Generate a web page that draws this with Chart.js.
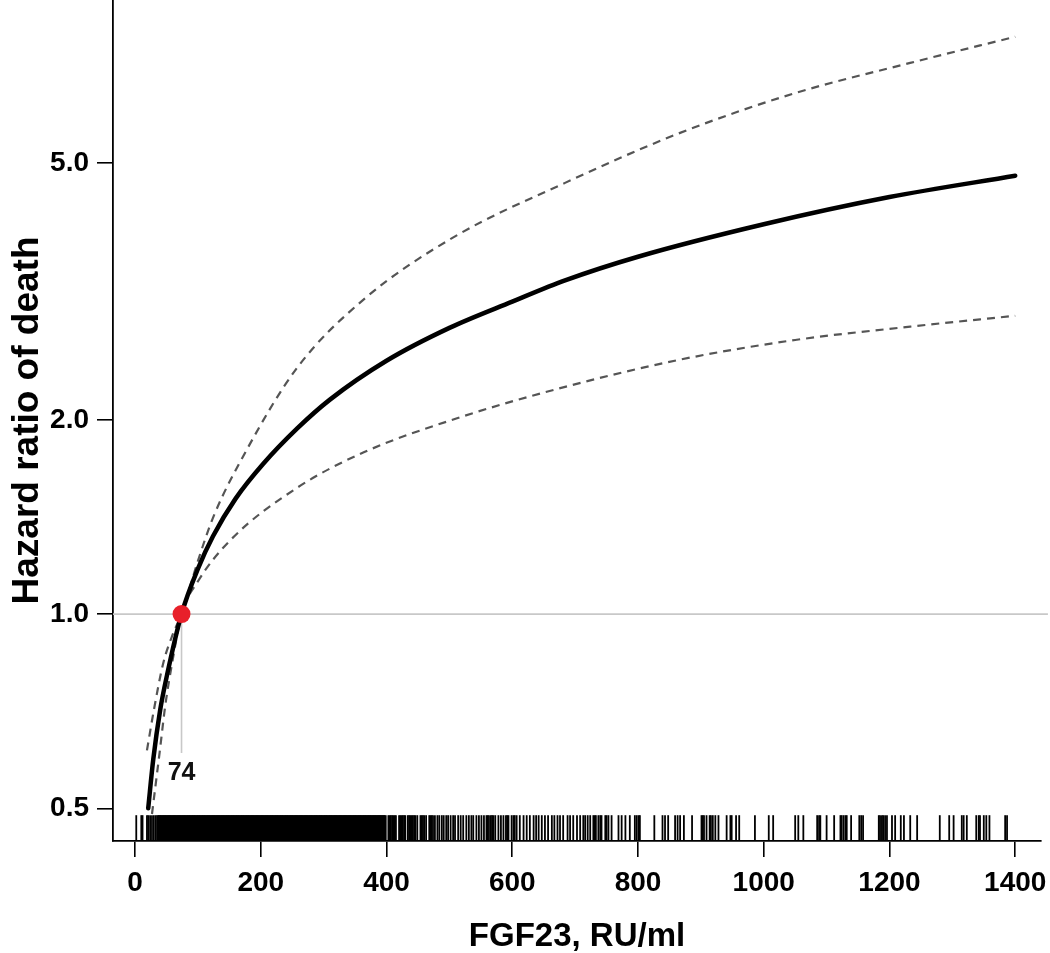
<!DOCTYPE html>
<html>
<head>
<meta charset="utf-8">
<script src="https://cdn.jsdelivr.net/npm/chart.js@4"></script>
<style>
  html, body { margin: 0; padding: 0; background: #ffffff; }
  #wrap { width: 1050px; height: 953px; position: relative; }
</style>
</head>
<body>
<div id="wrap"><canvas id="c" width="1050" height="953"></canvas></div>
<script>
// ---- data ----
const mainX  = [21, 29, 40, 51, 74, 100, 124, 160, 204, 258, 310, 400, 501, 600, 684, 800, 1000, 1200, 1400];
const mainHR = [0.50, 0.595, 0.71, 0.805, 1.00, 1.175, 1.32, 1.51, 1.71, 1.94, 2.15, 2.47, 2.78, 3.05, 3.29, 3.58, 4.02, 4.43, 4.78];

const upperX  = [19, 30, 45, 60, 74, 99, 124, 178, 258, 363, 507, 684, 867, 1050, 1233, 1400];
const upperHR = [0.615, 0.71, 0.84, 0.93, 1.00, 1.20, 1.41, 1.80, 2.41, 3.07, 3.84, 4.66, 5.57, 6.42, 7.15, 7.85];

const lowerX  = [27, 40, 48, 60, 74, 99, 151, 258, 363, 511, 684, 867, 1050, 1233, 1400];
const lowerHR = [0.49, 0.62, 0.72, 0.85, 1.00, 1.12, 1.30, 1.57, 1.78, 2.01, 2.25, 2.48, 2.66, 2.79, 2.90];

const refX = 74;      // FGF23 value where HR = 1
const refHR = 1.0;
const refLabel = "74";

// individual FGF23 observations (rug): the densely packed core ...
const rugDense = [
  36, 38, 40, 42, 44, 46, 48, 50, 52, 54, 56, 58, 60, 62, 64, 66, 68, 70, 72, 74, 76, 78, 80,
  82, 84, 86, 88, 90, 92, 94, 96, 98, 100, 102, 104, 106, 108, 110, 112, 114, 116, 118, 120,
  122, 124, 126, 128, 130, 132, 134, 136, 138, 140, 142, 144, 146, 148, 150, 152, 154, 156, 158, 160,
  162, 164, 166, 168, 170, 172, 174, 176, 178, 180, 182, 184, 186, 188, 190, 192, 194, 196, 198, 200,
  202, 204, 206, 208, 210, 212, 214, 216, 218, 220, 222, 224, 226, 228, 230, 232, 234, 236, 238, 240,
  242, 244, 246, 248, 250, 252, 254, 256, 258, 260, 262, 264, 266, 268, 270, 272, 274, 276, 278, 280,
  282, 284, 286, 288, 290, 292, 294, 296, 298, 300, 302, 304, 306, 308, 310, 312, 314, 316, 318, 320,
  322, 324, 326, 328, 330, 332, 334, 336, 338, 340, 342, 344, 346, 348, 350, 352, 354, 356, 358, 360,
  362, 364, 366, 368, 370, 372, 374, 376, 378, 380, 382, 384, 386, 388, 390, 392, 394, 396, 398
];
// ... and the scattered observations around it
const rugSparse = [
  2, 10, 12, 19, 21, 24, 27, 30, 33,
  403, 405, 407, 409, 411, 413, 415,
  420, 422, 424, 426, 428, 430, 434, 436, 438, 440, 442, 444, 446, 449, 454, 456, 458, 460, 463,
  468, 470, 472, 474, 477, 481, 484, 488, 491, 495, 498,
  502, 506, 509, 514, 518, 522, 527, 531, 535, 538, 543, 547,
  551, 555, 559, 561, 563, 566, 568, 570, 573, 578, 582, 586, 590, 592, 594, 599, 602, 604, 607, 612, 618, 623, 628,
  634, 638, 642, 647, 652, 657, 663, 667, 672, 676, 681, 688, 692, 697, 703,
  708, 713, 716, 720, 724, 729, 731, 733, 737, 740, 742, 748, 750, 753, 758, 769, 774, 780, 787,
  795, 798, 801, 803, 826, 839, 843, 848, 859, 863, 867, 873, 886, 901, 903, 905, 909, 914, 916, 919,
  923, 928, 941, 947, 949, 956, 961, 986, 1008, 1015, 1050, 1055, 1063, 1085, 1088, 1090, 1100, 1112,
  1122, 1124, 1127, 1130, 1132, 1139, 1152, 1155, 1158, 1183, 1185, 1188, 1190, 1193, 1196, 1204, 1209,
  1218, 1223, 1233, 1244, 1280, 1295, 1302, 1315, 1318, 1323, 1338, 1342, 1344, 1350, 1354, 1359, 1384, 1387
];

const xTickValues = [0, 200, 400, 600, 800, 1000, 1200, 1400];
const yTickValues = [0.5, 1.0, 2.0, 5.0];
const yTickLabels = ["0.5", "1.0", "2.0", "5.0"];

const xTitle = "FGF23, RU/ml";
const yTitle = "Hazard ratio of death";

// ---- styling / layout constants ----
const X_MIN = -35, X_MAX = 1441;
const Y_MIN = 0.445, Y_MAX = 8.95;
const RUG_Y = 0.4658;          // vertical centre of the rug strip (in axis units)
const REF_DROP_Y = 0.609;      // lower end of the vertical reference line
const LABEL_Y = 0.567;         // where the "74" label sits
const FONT = "'Liberation Sans', Arial, Helvetica, sans-serif";

const toPts = (xs, ys) => xs.map((x, i) => ({ x: x, y: ys[i] }));

const refLabelPlugin = {
  id: 'refLabel',
  afterDatasetsDraw(chart) {
    const { ctx, scales } = chart;
    const px = scales.x.getPixelForValue(refX);
    const py = scales.y.getPixelForValue(LABEL_Y);
    ctx.save();
    ctx.font = "bold 25px " + FONT;
    ctx.fillStyle = "#111";
    ctx.textAlign = "center";
    ctx.textBaseline = "middle";
    ctx.fillText(refLabel, px, py);
    ctx.restore();
  }
};

const rugStyle = {
  showLine: false,
  pointStyle: 'line',
  rotation: 90,
  pointRadius: 13,
  pointBorderColor: '#000000',
  order: 4
};

new Chart(document.getElementById('c'), {
  type: 'scatter',
  data: {
    datasets: [
      {
        label: 'ref point',
        data: [{ x: refX, y: refHR }],
        pointRadius: 9,
        pointBackgroundColor: '#e8202a',
        pointBorderWidth: 0,
        showLine: false,
        order: 0
      },
      {
        label: 'HR',
        data: toPts(mainX, mainHR),
        showLine: true,
        borderColor: '#000000',
        borderWidth: 4.5,
        pointRadius: 0,
        cubicInterpolationMode: 'monotone',
        borderCapStyle: 'round',
        order: 1
      },
      {
        label: 'upper',
        data: toPts(upperX, upperHR),
        showLine: true,
        borderColor: '#555555',
        borderWidth: 2.2,
        borderDash: [8, 6],
        pointRadius: 0,
        cubicInterpolationMode: 'monotone',
        order: 2
      },
      {
        label: 'lower',
        data: toPts(lowerX, lowerHR),
        showLine: true,
        borderColor: '#555555',
        borderWidth: 2.2,
        borderDash: [8, 6],
        pointRadius: 0,
        cubicInterpolationMode: 'monotone',
        order: 2
      },
      {
        label: 'hline',
        data: [{ x: X_MIN, y: refHR }, { x: 1452, y: refHR }],
        showLine: true,
        borderColor: '#c8c8c8',
        borderWidth: 1.6,
        pointRadius: 0,
        clip: { left: 0, top: 0, right: 12, bottom: 0 },
        order: 3
      },
      {
        label: 'vline',
        data: [{ x: refX, y: refHR }, { x: refX, y: REF_DROP_Y }],
        showLine: true,
        borderColor: '#c8c8c8',
        borderWidth: 1.6,
        pointRadius: 0,
        order: 3
      },
      Object.assign({ label: 'rug dense', data: rugDense.map(v => ({ x: v, y: RUG_Y })), pointBorderWidth: 2.8 }, rugStyle),
      Object.assign({ label: 'rug sparse', data: rugSparse.map(v => ({ x: v, y: RUG_Y })), pointBorderWidth: 1.8 }, rugStyle)
    ]
  },
  options: {
    responsive: false,
    animation: false,
    events: [],
    layout: { autoPadding: false, padding: { left: 0, right: 9, top: 0, bottom: 0 } },
    plugins: {
      legend: { display: false },
      tooltip: { enabled: false },
      title: { display: false }
    },
    scales: {
      x: {
        type: 'linear',
        min: X_MIN,
        max: X_MAX,
        afterBuildTicks: (s) => { s.ticks = xTickValues.map(v => ({ value: v })); },
        afterFit: (s) => { s.height = 112; s.paddingLeft = 0; s.paddingRight = 0; s.paddingTop = 0; s.paddingBottom = 0; },
        grid: {
          display: true,
          drawOnChartArea: false,
          drawTicks: true,
          tickLength: 16,
          color: '#000000',
          lineWidth: 1.6
        },
        border: { display: true, color: '#000000', width: 1.8 },
        ticks: {
          color: '#000000',
          padding: 9,
          maxRotation: 0,
          font: { family: FONT, size: 28, weight: 'bold' },
          callback: (v) => String(v)
        },
        title: {
          display: true,
          text: xTitle,
          color: '#000000',
          font: { family: FONT, size: 33, weight: 'bold', lineHeight: 1 },
          padding: { top: 0, bottom: 0 }
        }
      },
      y: {
        type: 'logarithmic',
        min: Y_MIN,
        max: Y_MAX,
        afterBuildTicks: (s) => { s.ticks = yTickValues.map(v => ({ value: v })); },
        afterFit: (s) => { s.width = 113; s.paddingTop = 0; s.paddingBottom = 0; s.paddingLeft = 0; s.paddingRight = 0; },
        grid: {
          display: true,
          drawOnChartArea: false,
          drawTicks: true,
          tickLength: 16,
          color: '#000000',
          lineWidth: 1.6
        },
        border: { display: true, color: '#000000', width: 1.8 },
        ticks: {
          color: '#000000',
          padding: 8,
          font: { family: FONT, size: 28, weight: 'bold' },
          callback: (v) => {
            const i = yTickValues.indexOf(v);
            return i >= 0 ? yTickLabels[i] : '';
          }
        },
        title: {
          display: true,
          text: yTitle,
          color: '#000000',
          font: { family: FONT, size: 37, weight: 'bold', lineHeight: 1 },
          padding: { top: 9, bottom: 0 }
        }
      }
    }
  },
  plugins: [refLabelPlugin]
});
</script>
</body>
</html>
